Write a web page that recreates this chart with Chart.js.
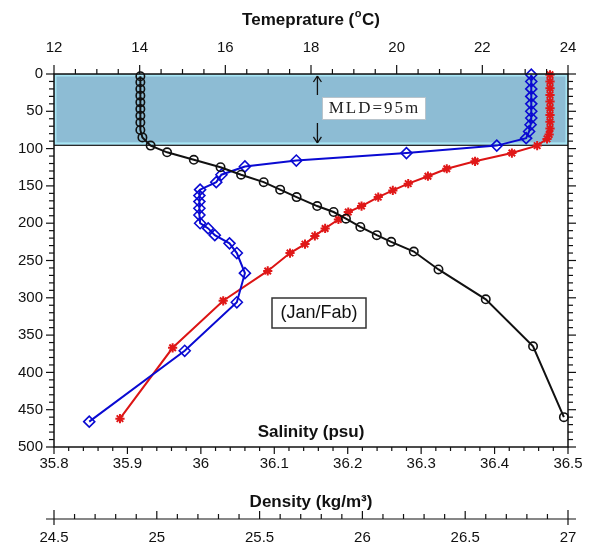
<!DOCTYPE html>
<html>
<head>
<meta charset="utf-8">
<script src="https://cdn.jsdelivr.net/npm/chart.js@4.4.0/dist/chart.umd.min.js"></script>
<style>
  body { margin: 0; background: #fff; }
  canvas { display: block; }
</style>
</head>
<body>
<canvas id="profileChart" width="595" height="547"></canvas>
<script>
// Density profile (black circles)
const denDepth = [3, 11, 20, 29, 38, 47, 56, 65, 75, 85, 96, 105, 115, 125, 135, 145, 155, 165, 177, 185, 194, 205, 216, 225, 238, 262, 302, 365, 460];
const denValues = [24.92, 24.92, 24.92, 24.92, 24.92, 24.92, 24.92, 24.92, 24.92, 24.93, 24.97, 25.05, 25.18, 25.31, 25.41, 25.52, 25.60, 25.68, 25.78, 25.86, 25.92, 25.99, 26.07, 26.14, 26.25, 26.37, 26.60, 26.83, 26.98];

// Salinity profile (blue diamonds)
const salDepth = [1, 10, 20, 30, 40, 50, 59, 68, 77, 86, 96, 106, 116, 124, 135, 145, 155, 163, 171, 180, 189, 200, 207, 216, 227, 240, 267, 306, 371, 466];
const salValues = [36.45, 36.45, 36.45, 36.45, 36.45, 36.45, 36.45, 36.449, 36.447, 36.443, 36.403, 36.28, 36.13, 36.06, 36.028, 36.021, 35.999, 35.998, 35.998, 35.998, 35.998, 35.999, 36.01, 36.019, 36.039, 36.049, 36.06, 36.049, 35.978, 35.848];

// Temperature profile (red stars)
const tempDepth = [1, 10, 19, 28, 37, 46, 55, 64, 73, 81, 87, 96, 106, 117, 127, 137, 147, 156, 165, 177, 185, 195, 207, 217, 228, 240, 264, 304, 367, 462];
const tempValues = [23.58, 23.58, 23.58, 23.58, 23.58, 23.58, 23.58, 23.58, 23.58, 23.56, 23.51, 23.28, 22.69, 21.83, 21.17, 20.73, 20.27, 19.91, 19.57, 19.18, 18.87, 18.64, 18.33, 18.09, 17.86, 17.51, 16.99, 15.95, 14.77, 13.54];

// Axis labels
const tempTicks = [12, 14, 16, 18, 20, 22, 24];
const salTicks = [35.8, 35.9, 36, 36.1, 36.2, 36.3, 36.4, 36.5];
const denTicks = [24.5, 25, 25.5, 26, 26.5, 27];
const depthTicks = [0, 50, 100, 150, 200, 250, 300, 350, 400, 450, 500];

const MLD = 95;
const DENSITY_AXIS_Y = 519;

const toPoints = (xs, ys) => xs.map((v, i) => ({ x: v, y: ys[i] }));

function line(ctx, x1, y1, x2, y2) {
    ctx.beginPath();
    ctx.moveTo(x1, y1);
    ctx.lineTo(x2, y2);
    ctx.stroke();
}

function arrow(ctx, x, yFrom, yTo) {
    const dir = yTo > yFrom ? 1 : -1;
    line(ctx, x, yFrom, x, yTo);
    line(ctx, x - 4, yTo - dir * 6, x, yTo);
    line(ctx, x + 4, yTo - dir * 6, x, yTo);
}

// Mixed layer shading, frame, ticks and all the text
const profileAxes = {
    id: 'profileAxes',
    beforeDatasetsDraw(chart) {
        const { ctx, chartArea: a, scales } = chart;
        const yMld = scales.y.getPixelForValue(MLD);
        ctx.save();
        ctx.fillStyle = '#8dbcd4';
        ctx.fillRect(a.left, a.top, a.right - a.left, yMld - a.top);
        ctx.strokeStyle = '#a8e6f4';
        ctx.lineWidth = 2;
        ctx.strokeRect(a.left + 1.5, a.top + 1.5, a.right - a.left - 3, yMld - a.top - 3);
        ctx.strokeStyle = '#2a2a2a';
        ctx.lineWidth = 1.2;
        line(ctx, a.left, yMld + 0.5, a.right, yMld + 0.5);
        ctx.restore();
    },
    afterDatasetsDraw(chart) {
        const { ctx, chartArea: a, scales } = chart;
        const y = scales.y, xT = scales.xTemp, xS = scales.xSal, xD = scales.xDen;
        ctx.save();
        ctx.strokeStyle = '#111';
        ctx.fillStyle = '#111';
        ctx.lineWidth = 1.5;
        ctx.strokeRect(a.left, a.top, a.right - a.left, a.bottom - a.top);

        ctx.lineWidth = 1.2;
        // depth ticks, both sides
        for (let i = 0; i <= 50; i++) {
            const py = y.getPixelForValue(i * 10);
            const len = i % 5 === 0 ? 8 : 5;
            line(ctx, a.left - len, py, a.left, py);
            line(ctx, a.right, py, a.right + len, py);
        }
        // temperature ticks along the top
        for (let i = 0; i <= 24; i++) {
            const px = xT.getPixelForValue(12 + i * 0.5);
            line(ctx, px, a.top, px, a.top - (i % 4 === 0 ? 9 : 5));
        }
        // salinity ticks along the bottom
        for (let i = 0; i <= 35; i++) {
            const px = xS.getPixelForValue(35.8 + i * 0.02);
            line(ctx, px, a.bottom, px, a.bottom + (i % 5 === 0 ? 7 : 4));
        }
        // separate density axis
        line(ctx, xD.getPixelForValue(24.5) - 8, DENSITY_AXIS_Y, xD.getPixelForValue(27) + 8, DENSITY_AXIS_Y);
        for (let i = 0; i <= 25; i++) {
            const px = xD.getPixelForValue(24.5 + i * 0.1);
            if (i === 0 || i === 25) {
                line(ctx, px, DENSITY_AXIS_Y - 9, px, DENSITY_AXIS_Y + 6);
            } else {
                line(ctx, px, DENSITY_AXIS_Y, px, DENSITY_AXIS_Y - (i % 5 === 0 ? 8 : 5));
            }
        }

        // tick labels
        ctx.font = '15px "Liberation Sans", Arial, sans-serif';
        ctx.textBaseline = 'middle';
        ctx.textAlign = 'right';
        depthTicks.forEach(v => ctx.fillText(String(v), a.left - 11, y.getPixelForValue(v)));
        ctx.textAlign = 'center';
        tempTicks.forEach(v => ctx.fillText(String(v), xT.getPixelForValue(v), 48));
        salTicks.forEach(v => ctx.fillText(String(v), xS.getPixelForValue(v), 464));
        denTicks.forEach(v => ctx.fillText(String(v), xD.getPixelForValue(v), 538));

        // axis titles
        const cx = (a.left + a.right) / 2;
        ctx.font = 'bold 17px "Liberation Sans", Arial, sans-serif';
        ctx.fillText('Salinity (psu)', cx, 432);
        ctx.fillText('Density (kg/m\u00B3)', cx, 502);

        const head = 'Temeprature (', tail = 'C)';
        const wHead = ctx.measureText(head).width;
        const wTail = ctx.measureText(tail).width;
        ctx.font = 'bold 11px "Liberation Sans", Arial, sans-serif';
        const wSup = ctx.measureText('o').width + 1;
        let tx = cx - (wHead + wSup + wTail) / 2;
        ctx.textAlign = 'left';
        ctx.fillText('o', tx + wHead + 0.5, 14);
        ctx.font = 'bold 17px "Liberation Sans", Arial, sans-serif';
        ctx.fillText(head, tx, 20);
        ctx.fillText(tail, tx + wHead + wSup, 20);

        // MLD annotation
        const mx = xT.getPixelForValue(18.15);
        ctx.lineWidth = 1.3;
        arrow(ctx, mx, 95, a.top + 2);
        arrow(ctx, mx, 123, y.getPixelForValue(MLD) - 2);

        ctx.fillStyle = '#fff';
        ctx.fillRect(322, 97, 103, 22);
        ctx.strokeStyle = '#b8c4cc';
        ctx.lineWidth = 1;
        ctx.strokeRect(322.5, 97.5, 103, 22);
        ctx.fillStyle = '#222';
        ctx.textAlign = 'center';
        ctx.font = '17px "Liberation Serif", "DejaVu Serif", serif';
        ctx.letterSpacing = '2px';
        ctx.fillText('MLD=95m', 374.5, 109);
        ctx.letterSpacing = '0px';

        // season label
        ctx.fillStyle = '#fff';
        ctx.fillRect(272, 298, 94, 30);
        ctx.strokeStyle = '#333';
        ctx.lineWidth = 1.5;
        ctx.strokeRect(272, 298, 94, 30);
        ctx.fillStyle = '#111';
        ctx.font = '18px "Liberation Sans", Arial, sans-serif';
        ctx.fillText('(Jan/Fab)', 319, 313);
        ctx.restore();
    }
};

new Chart(document.getElementById('profileChart'), {
    type: 'scatter',
    data: {
        datasets: [{
            label: 'Density',
            data: toPoints(denValues, denDepth),
            xAxisID: 'xDen',
            showLine: true,
            borderColor: '#111',
            borderWidth: 2,
            pointStyle: 'circle',
            pointRadius: 4.2,
            pointBorderWidth: 1.6,
            pointBorderColor: '#111',
            pointBackgroundColor: 'rgba(0,0,0,0)'
        }, {
            label: 'Salinity',
            data: toPoints(salValues, salDepth),
            xAxisID: 'xSal',
            showLine: true,
            borderColor: '#0a0ad2',
            borderWidth: 2,
            pointStyle: 'rectRot',
            pointRadius: 5.5,
            pointBorderWidth: 1.6,
            pointBorderColor: '#0a0ad2',
            pointBackgroundColor: 'rgba(0,0,0,0)'
        }, {
            label: 'Temperature',
            data: toPoints(tempValues, tempDepth),
            xAxisID: 'xTemp',
            showLine: true,
            borderColor: '#dc1414',
            borderWidth: 2,
            pointStyle: 'star',
            pointRadius: 4.6,
            pointBorderWidth: 2,
            pointBorderColor: '#e01818',
            pointBackgroundColor: '#e01818'
        }]
    },
    options: {
        responsive: false,
        animation: false,
        clip: false,
        layout: { padding: { left: 54, right: 27, top: 74, bottom: 100 } },
        plugins: { legend: { display: false }, tooltip: { enabled: false } },
        scales: {
            y: { type: 'linear', min: 0, max: 500, reverse: true, display: false },
            xSal: { type: 'linear', axis: 'x', position: 'bottom', min: 35.8, max: 36.5, display: false },
            xTemp: { type: 'linear', axis: 'x', position: 'top', min: 12, max: 24, display: false },
            xDen: { type: 'linear', axis: 'x', position: 'bottom', min: 24.5, max: 27, display: false }
        }
    },
    plugins: [profileAxes]
});
</script>
</body>
</html>
